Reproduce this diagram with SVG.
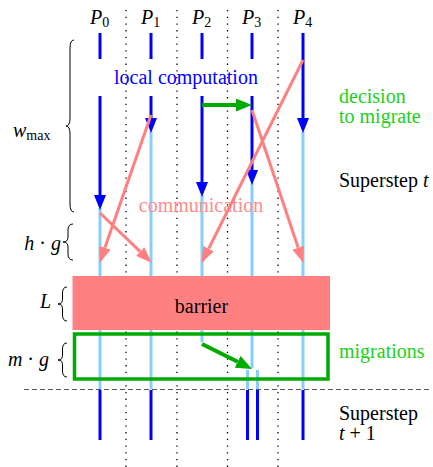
<svg xmlns="http://www.w3.org/2000/svg" width="433" height="467" viewBox="0 0 433 467">
<style>
text{font-family:"Liberation Serif","Times New Roman","DejaVu Serif",serif;font-size:20px}
.it{font-style:italic}
.sub{font-size:14px}
.blue{stroke:#0000ff;stroke-width:3;fill:none}
.light{stroke:#87cefa;stroke-width:3;fill:none}
.pink{stroke:#ff8080;stroke-width:3;fill:none;marker-end:url(#ap)}
.green{stroke:#00aa00;stroke-width:4;fill:none;marker-end:url(#ag)}
.dot{stroke:#000;stroke-width:1.3;stroke-dasharray:1.3 5.4;fill:none}
.brace{stroke:#000;stroke-width:1;fill:none}
.lg{fill:#20d020}
</style>
<defs>
<marker id="ab" markerUnits="userSpaceOnUse" markerWidth="15" markerHeight="12" viewBox="0 0 15 12" refX="0" refY="6" orient="auto"><path d="M0,0 L15,6 L0,12 z" fill="#0000ff"/></marker>
<marker id="ap" markerUnits="userSpaceOnUse" markerWidth="16" markerHeight="12" viewBox="0 0 16 12" refX="0" refY="6" orient="auto"><path d="M0,0 L16,6 L0,12 z" fill="#ff8080"/></marker>
<marker id="ag" markerUnits="userSpaceOnUse" markerWidth="16" markerHeight="13" viewBox="0 0 16 13" refX="0" refY="6.5" orient="auto"><path d="M0,0 L16,6.5 L0,13 z" fill="#00aa00"/></marker>
</defs>

<g id="grid">
<path class="dot" d="M126,10 V467 M177,10 V467 M227.5,10 V467 M278,10 V467"/>
<path d="M24,389.5 H432" stroke="#555" stroke-width="1.2" stroke-dasharray="5 3"/>
</g>

<g id="labels-procs">
<text x="90" y="24"><tspan class="it">P</tspan><tspan class="sub" dy="3">0</tspan></text>
<text x="141" y="24"><tspan class="it">P</tspan><tspan class="sub" dy="3">1</tspan></text>
<text x="192" y="24"><tspan class="it">P</tspan><tspan class="sub" dy="3">2</tspan></text>
<text x="242" y="24"><tspan class="it">P</tspan><tspan class="sub" dy="3">3</tspan></text>
<text x="293" y="24"><tspan class="it">P</tspan><tspan class="sub" dy="3">4</tspan></text>
</g>

<g id="light-lines">
<path class="light" d="M100,208 V389 M151,131 V389 M202,195 V342 M252,183 V368 M247.5,370 V389 M257.5,370 V389 M303,131 V389"/>
</g>

<g id="computation">
<path class="blue" d="M100,33 V59 M151,33 V59 M202,33 V59 M252,33 V59"/>
<path class="blue" d="M100,96 V195" marker-end="url(#ab)"/>
<path class="blue" d="M151,96 V118" marker-end="url(#ab)"/>
<path class="blue" d="M202,96 V182" marker-end="url(#ab)"/>
<path class="blue" d="M252,96 V170" marker-end="url(#ab)"/>
<path class="blue" d="M303,33 V118" marker-end="url(#ab)"/>
<text x="186" y="84" text-anchor="middle" fill="#0000ff">local computation</text>
</g>

<g id="barrier">
<rect x="72.5" y="276" width="257.5" height="54" fill="#ff8080"/>
<text x="201.5" y="313" text-anchor="middle" fill="#000">barrier</text>
</g>

<g id="migration-box">
<rect x="74.5" y="334" width="253.5" height="45" fill="none" stroke="#00aa00" stroke-width="3.5"/>
</g>

<g id="next-step">
<path class="blue" d="M100,390 V440 M151,390 V440 M247.5,390 V440 M257.5,390 V440 M303,390 V440"/>
</g>

<text id="comm-label" x="201" y="212" text-anchor="middle" fill="#ff8c8c">communication</text>

<g id="connectors">
<path class="pink" d="M303,60 L208.7,248.6"/>
<path class="pink" d="M151,115 L104.9,247.8"/>
<path class="pink" d="M100,213 L140.2,251.6"/>
<path class="pink" d="M252,110 L298.2,247.8"/>
<path class="green" d="M202,105 L236,105"/>
<path class="green" d="M202,344 L237.7,361.8"/>
</g>

<g id="left-labels">
<path class="brace" d="M74,40 Q70,40 70,48 L70,118 Q70,126 66,126 Q70,126 70,134 L70,204 Q70,212 74,212"/>
<text x="13" y="137"><tspan class="it">w</tspan><tspan class="sub" dy="3">max</tspan></text>
<path class="brace" d="M73,224 Q68,224 68,230 L68,237 Q68,242 63,242 Q68,242 68,247 L68,254 Q68,260 73,260"/>
<text x="61" y="250" text-anchor="end"><tspan class="it">h</tspan> · <tspan class="it">g</tspan></text>
<path class="brace" d="M67,287 Q62.5,287 62.5,293 L62.5,299 Q62.5,304 58,304 Q62.5,304 62.5,309 L62.5,315 Q62.5,321 67,321"/>
<text x="51" y="308" text-anchor="end" class="it">L</text>
<path class="brace" d="M67,343 Q62.5,343 62.5,349 L62.5,355 Q62.5,360 58,360 Q62.5,360 62.5,365 L62.5,371 Q62.5,377 67,377"/>
<text x="49" y="366" text-anchor="end"><tspan class="it">m</tspan> · <tspan class="it">g</tspan></text>
</g>

<g id="right-labels">
<text x="339" y="103" class="lg">decision</text>
<text x="339" y="123" class="lg">to migrate</text>
<text x="339" y="187">Superstep <tspan class="it">t</tspan></text>
<text x="339" y="358" class="lg">migrations</text>
<text x="339" y="420">Superstep</text>
<text x="339" y="440"><tspan class="it">t</tspan> + 1</text>
</g>
</svg>
